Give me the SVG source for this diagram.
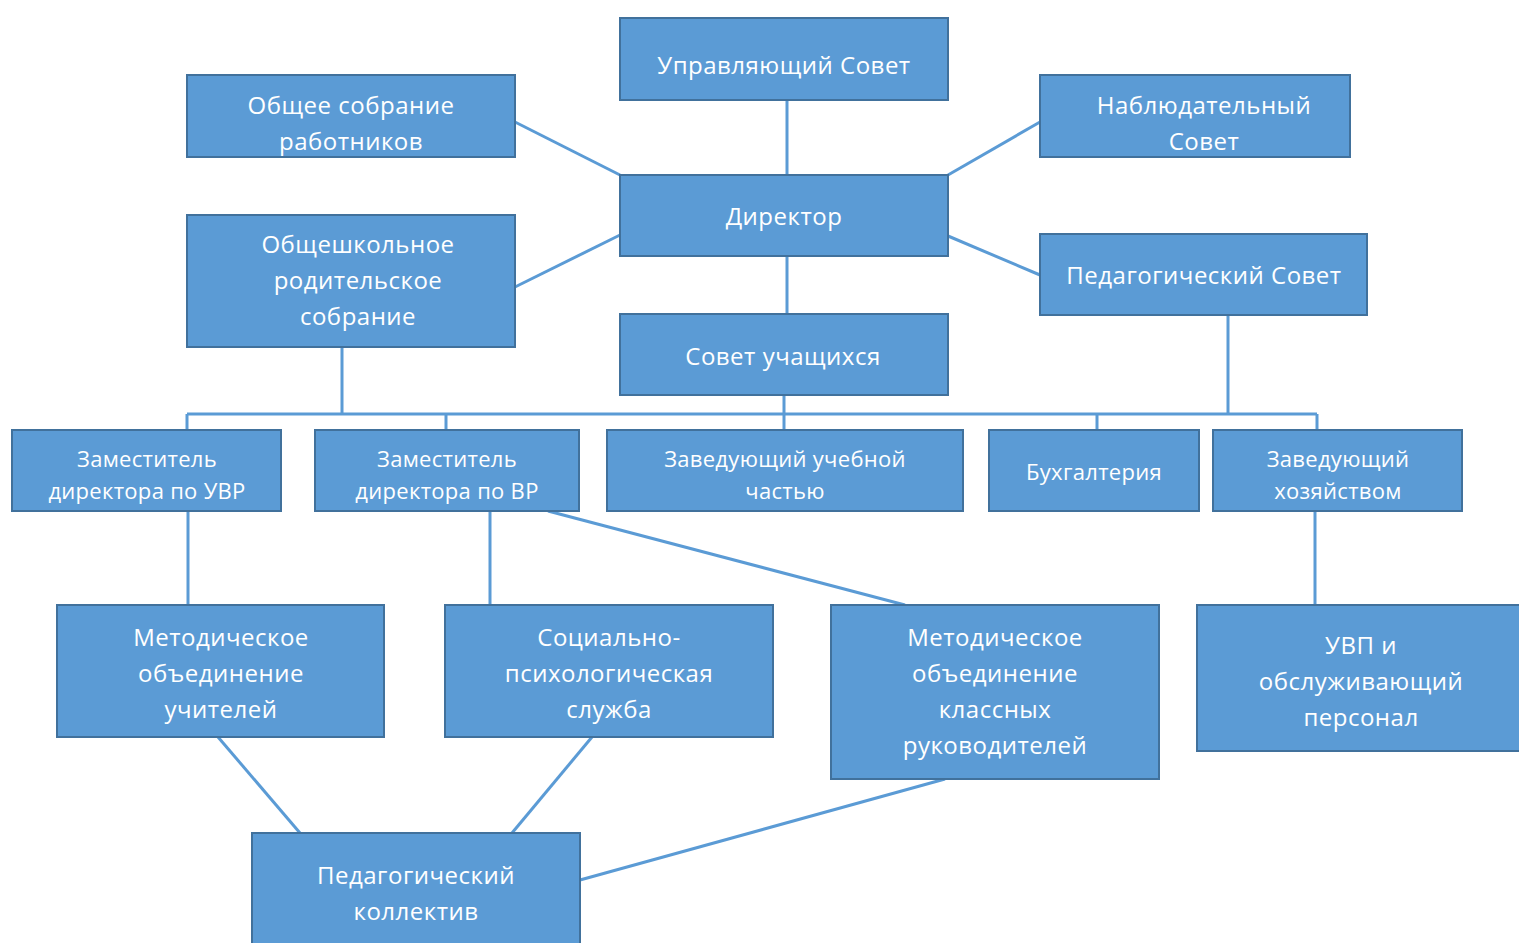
<svg xmlns="http://www.w3.org/2000/svg" width="1519" height="943" viewBox="0 0 1519 943">
<style>
.b{fill:#5b9bd5;stroke:#41719c;stroke-width:2}
.t{fill:#fff;font-family:"Open Sans","Noto Sans",sans-serif;font-size:24px;letter-spacing:0.5px;text-anchor:middle;dominant-baseline:central}
.s{font-size:22px;letter-spacing:0.3px}
.c line{stroke:#5b9bd5;stroke-width:3}
</style>
<rect width="1519" height="943" fill="#fff"/>
<g class="c" id="connectors">
<line x1="787" y1="100" x2="787" y2="175"/>
<line x1="787" y1="256" x2="787" y2="314"/>
<line x1="515" y1="122" x2="620" y2="175"/>
<line x1="515" y1="287" x2="620" y2="235"/>
<line x1="1040" y1="122" x2="948" y2="175"/>
<line x1="1040" y1="275" x2="948" y2="236"/>
<line x1="187" y1="414" x2="1317" y2="414"/>
<line x1="342" y1="347" x2="342" y2="414"/>
<line x1="784" y1="395" x2="784" y2="430"/>
<line x1="1228" y1="315" x2="1228" y2="414"/>
<line x1="187" y1="414" x2="187" y2="430"/>
<line x1="446" y1="414" x2="446" y2="430"/>
<line x1="1097" y1="414" x2="1097" y2="430"/>
<line x1="1317" y1="414" x2="1317" y2="430"/>
<line x1="188" y1="511" x2="188" y2="605"/>
<line x1="490" y1="511" x2="490" y2="605"/>
<line x1="548" y1="511" x2="905" y2="605"/>
<line x1="1315" y1="511" x2="1315" y2="605"/>
<line x1="218" y1="737" x2="300" y2="833"/>
<line x1="592" y1="737" x2="512" y2="833"/>
<line x1="945" y1="779" x2="580" y2="880"/>
</g>
<g id="upr"><rect class="b" x="620" y="18" width="328" height="82"/><text class="t" x="784" y="64">Управляющий Совет</text></g>
<g id="obsh"><rect class="b" x="187" y="75" width="328" height="82"/><text class="t" x="351" y="104">Общее собрание</text><text class="t" x="351" y="140">работников</text></g>
<g id="nabl"><rect class="b" x="1040" y="75" width="310" height="82"/><text class="t" x="1204" y="104">Наблюдательный</text><text class="t" x="1204" y="140">Совет</text></g>
<g id="dir"><rect class="b" x="620" y="175" width="328" height="81"/><text class="t" x="784" y="215">Директор</text></g>
<g id="rod"><rect class="b" x="187" y="215" width="328" height="132"/><text class="t" x="358" y="243">Общешкольное</text><text class="t" x="358" y="279">родительское</text><text class="t" x="358" y="315">собрание</text></g>
<g id="pedsov"><rect class="b" x="1040" y="234" width="327" height="81"/><text class="t" x="1204" y="274">Педагогический Совет</text></g>
<g id="uch"><rect class="b" x="620" y="314" width="328" height="81"/><text class="t" x="783" y="355">Совет учащихся</text></g>
<g id="uvr"><rect class="b" x="12" y="430" width="269" height="81"/><text class="t s" x="147" y="458">Заместитель</text><text class="t s" x="147" y="490">директора по УВР</text></g>
<g id="vr"><rect class="b" x="315" y="430" width="264" height="81"/><text class="t s" x="447" y="458">Заместитель</text><text class="t s" x="447" y="490">директора по ВР</text></g>
<g id="zuch"><rect class="b" x="607" y="430" width="356" height="81"/><text class="t s" x="785" y="458">Заведующий учебной</text><text class="t s" x="785" y="490">частью</text></g>
<g id="buh"><rect class="b" x="989" y="430" width="210" height="81"/><text class="t s" x="1094" y="471">Бухгалтерия</text></g>
<g id="hoz"><rect class="b" x="1213" y="430" width="249" height="81"/><text class="t s" x="1338" y="458">Заведующий</text><text class="t s" x="1338" y="490">хозяйством</text></g>
<g id="mou"><rect class="b" x="57" y="605" width="327" height="132"/><text class="t" x="221" y="636">Методическое</text><text class="t" x="221" y="672">объединение</text><text class="t" x="221" y="708">учителей</text></g>
<g id="sps"><rect class="b" x="445" y="605" width="328" height="132"/><text class="t" x="609" y="636">Социально-</text><text class="t" x="609" y="672">психологическая</text><text class="t" x="609" y="708">служба</text></g>
<g id="mok"><rect class="b" x="831" y="605" width="328" height="174"/><text class="t" x="995" y="636">Методическое</text><text class="t" x="995" y="672">объединение</text><text class="t" x="995" y="708">классных</text><text class="t" x="995" y="744">руководителей</text></g>
<g id="uvp"><rect class="b" x="1197" y="605" width="330" height="146"/><text class="t" x="1361" y="644">УВП и</text><text class="t" x="1361" y="680">обслуживающий</text><text class="t" x="1361" y="716">персонал</text></g>
<g id="pk"><rect class="b" x="252" y="833" width="328" height="120"/><text class="t" x="416" y="874">Педагогический</text><text class="t" x="416" y="910">коллектив</text></g>
</svg>
